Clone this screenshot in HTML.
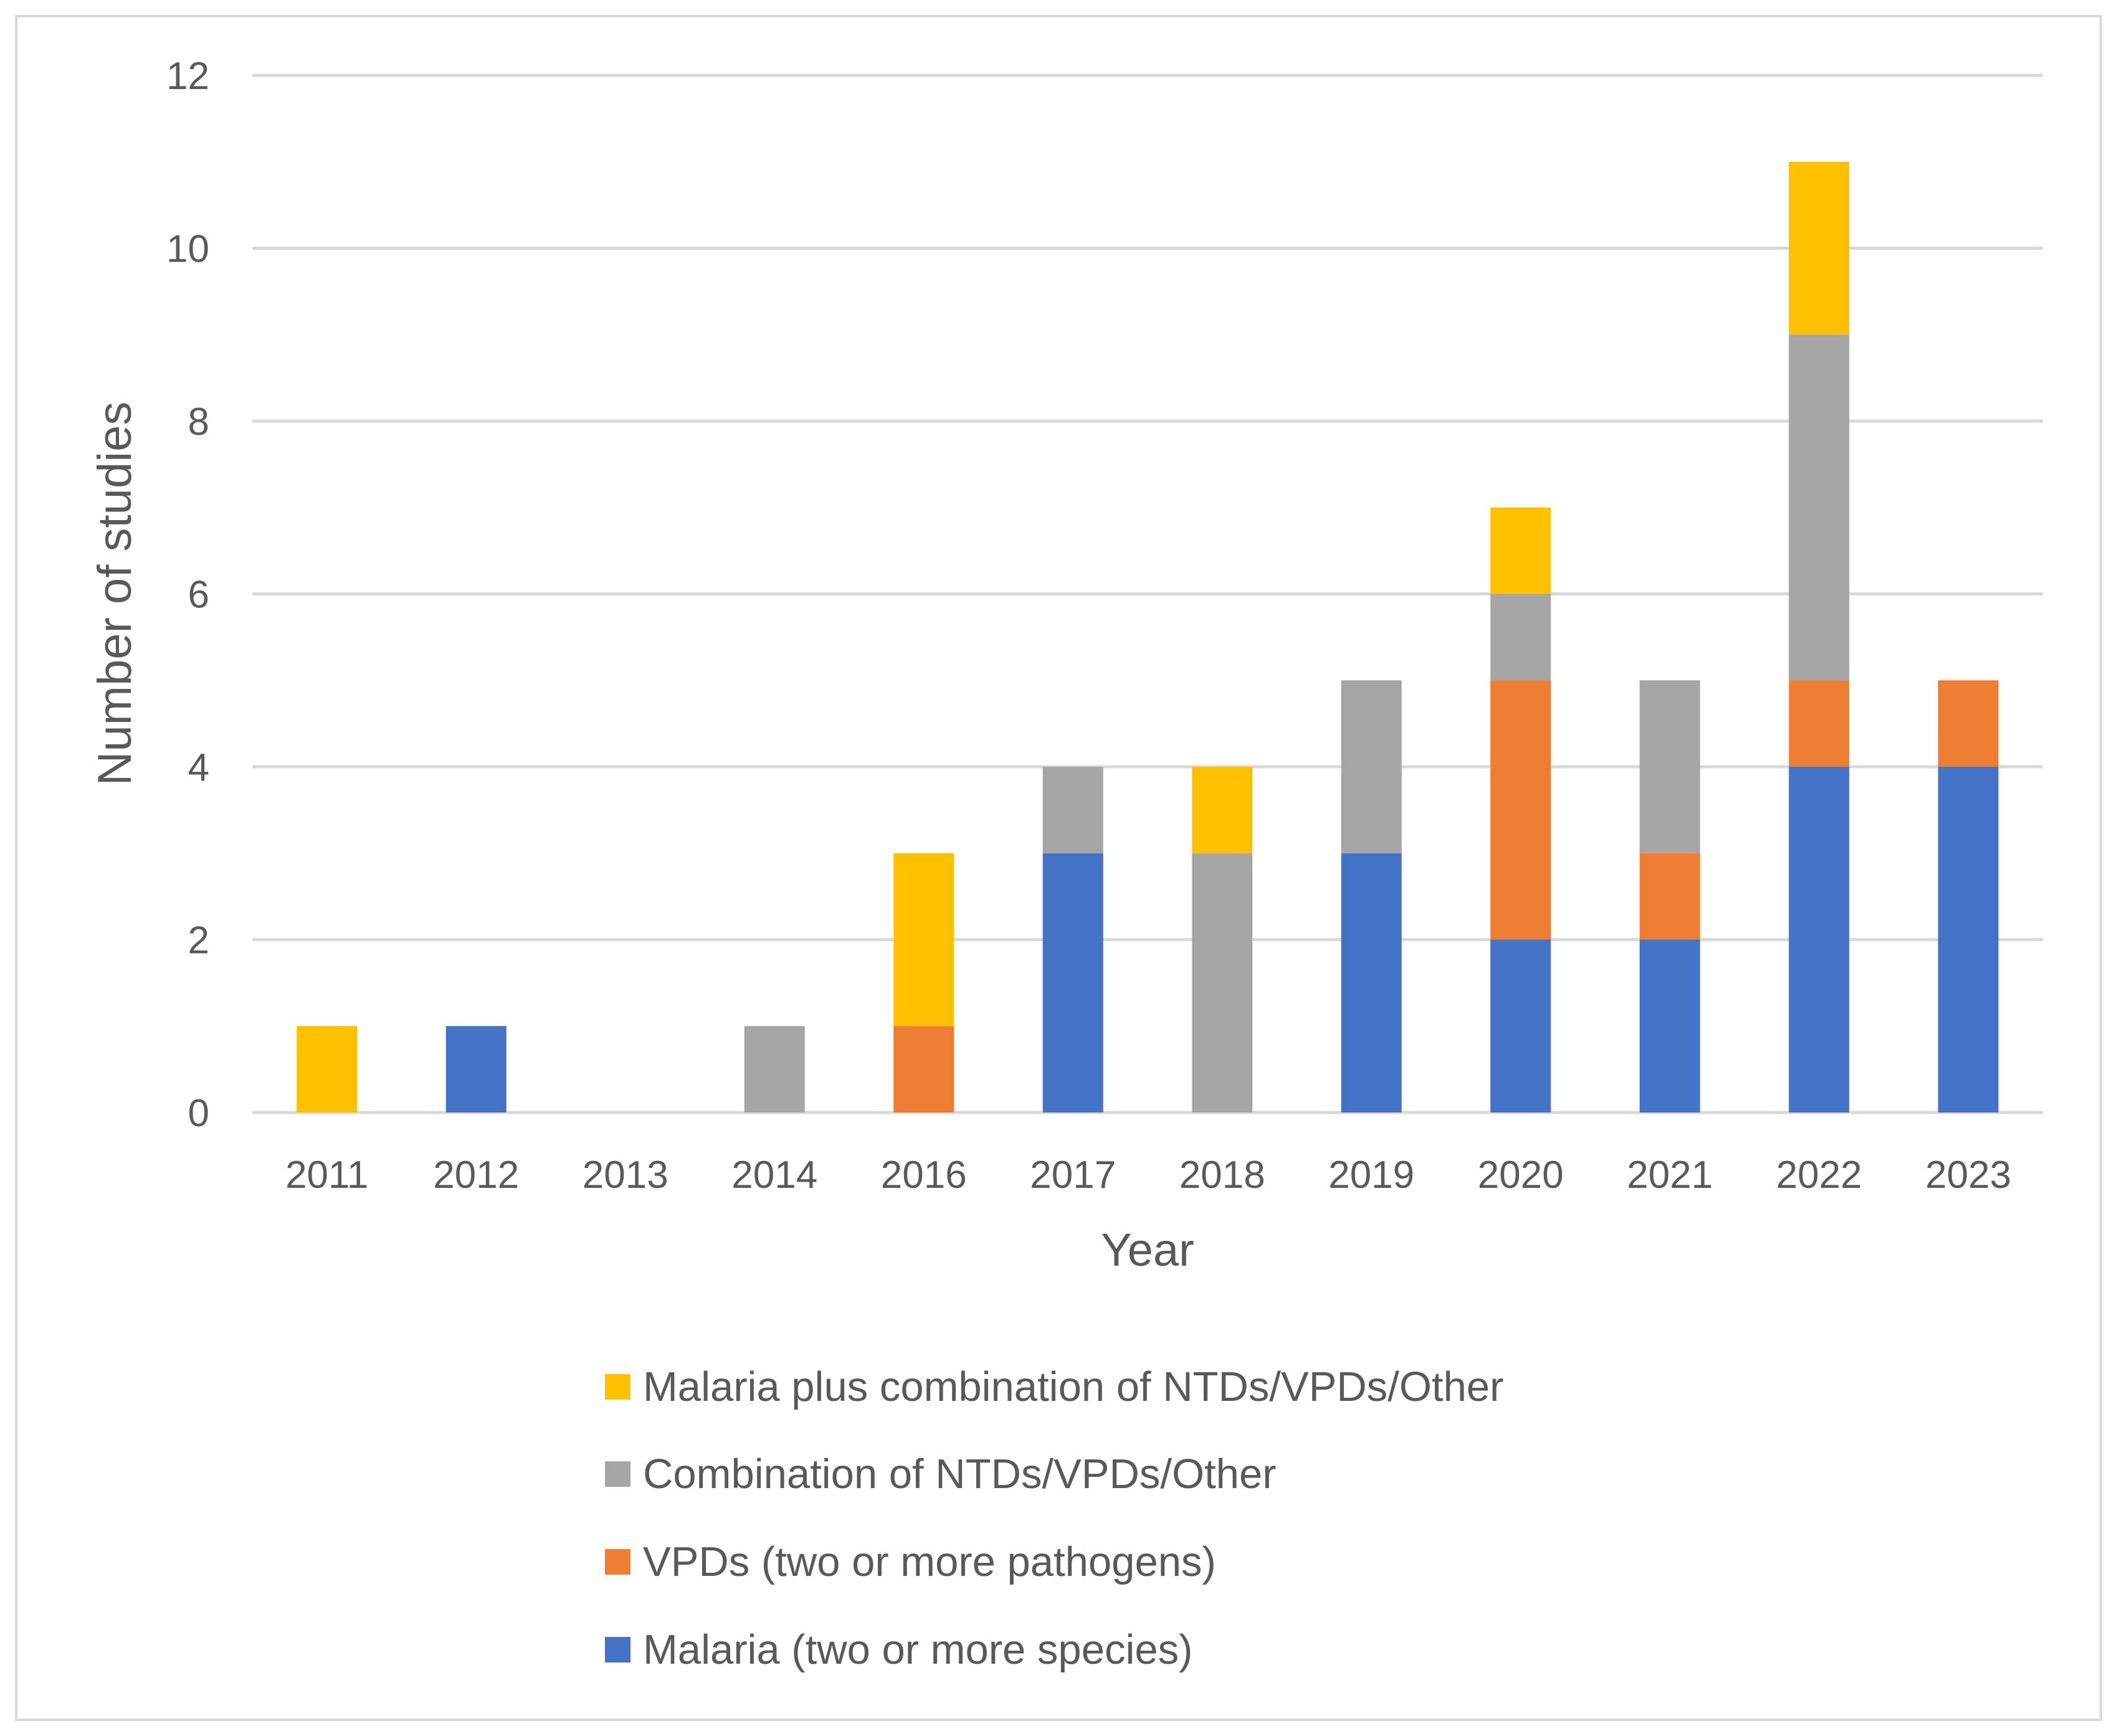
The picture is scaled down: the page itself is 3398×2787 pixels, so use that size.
<!DOCTYPE html>
<html><head><meta charset="utf-8"><style>
html,body{margin:0;padding:0;background:#fff;}
svg{display:block;font-family:"Liberation Sans",sans-serif;}
</style></head><body>
<svg id="chart" width="3398" height="2787" viewBox="0 0 3398 2787">
<rect x="26" y="26" width="3346" height="2735" fill="#fff" stroke="#d9d9d9" stroke-width="4"/>
<g id="grid"></g><g id="bars"></g><g id="axes"></g><g id="legend"></g>
</svg>
<script>
const categories = ["2011","2012","2013","2014","2016","2017","2018","2019","2020","2021","2022","2023"];
const malaria = [0,1,0,0,0,3,0,3,2,2,4,4];
const vpds = [0,0,0,0,1,0,0,0,3,1,1,1];
const combo = [0,0,0,1,0,1,3,2,1,2,4,0];
const malariaPlus = [1,0,0,0,2,0,1,0,1,0,2,0];
const yTicks = [0,2,4,6,8,10,12];
const seriesNames = ["Malaria (two or more species)","VPDs (two or more pathogens)","Combination of NTDs/VPDs/Other","Malaria plus combination of NTDs/VPDs/Other"];

const NS="http://www.w3.org/2000/svg";
const X0=405,X1=3279,Y0=1786,Y12=121,YMAX=12;
const colors=["#4472C4","#ED7D31","#A5A5A5","#FFC000"];
const series=[malaria,vpds,combo,malariaPlus];
const band=(X1-X0)/categories.length, bw=97;
function yS(v){return Y0-(Y0-Y12)*v/YMAX;}
function xS(i){return X0+band*(i+0.5);}
function mk(tag,attrs,parent,text){const e=document.createElementNS(NS,tag);for(const k in attrs)e.setAttribute(k,attrs[k]);if(text!==undefined)e.textContent=text;document.getElementById(parent).appendChild(e);return e;}

yTicks.forEach(t=>{
  const l=mk("line",{x1:X0,x2:X1,y1:yS(t),y2:yS(t),stroke:"#d9d9d9","stroke-width":5},"grid");
  
  
  const tx=mk("text",{x:336,y:yS(t)+22,"text-anchor":"end","font-size":62,fill:"#595959"},"axes",String(t));
  
  
});
categories.forEach((c,i)=>{
  let base=0;
  series.forEach((s,k)=>{
    if(s[i]>0){
      const r=mk("rect",{x:xS(i)-bw/2,y:yS(base+s[i]),width:bw,height:yS(base)-yS(base+s[i]),fill:colors[k]},"bars");
      
      
    }
    base+=s[i];
  });
  const tx=mk("text",{x:xS(i),y:1907,"text-anchor":"middle","font-size":62,fill:"#595959"},"axes",c);
  
  
});
const xt=mk("text",{x:1842,y:2032,"text-anchor":"middle","font-size":74,fill:"#595959"},"axes","Year");


const yt=mk("text",{x:0,y:0,"text-anchor":"middle","font-size":76,fill:"#595959",transform:"translate(210,953) rotate(-90)"},"axes","Number of studies");


const legY=[2648,2507,2366,2226];
seriesNames.forEach((n,k)=>{
  const r=mk("rect",{x:971,y:legY[k]-20,width:41,height:41,fill:colors[k]},"legend");
  
  
  const t=mk("text",{x:1032,y:legY[k]+23,"font-size":67,fill:"#595959"},"legend",n);
  
  
});
</script>
</body></html>
